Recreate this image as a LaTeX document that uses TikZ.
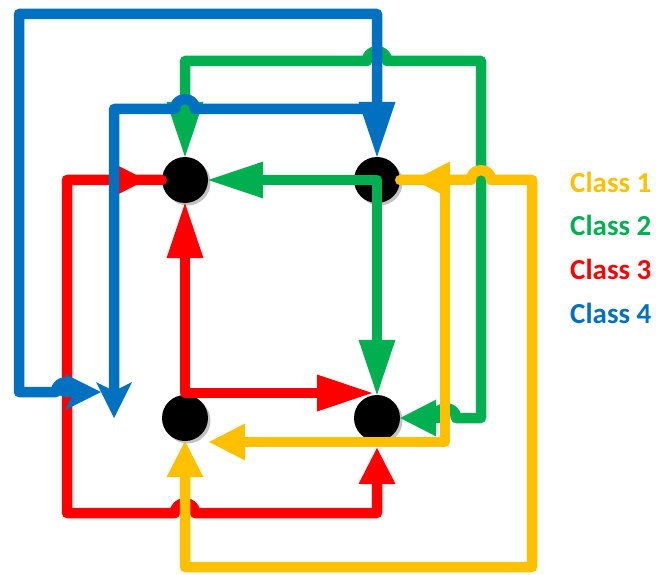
\documentclass[tikz,border=0pt]{standalone}
\usepackage{fontspec}
\newfontfamily\legendfont{Carlito}
\usetikzlibrary{arrows.meta,shadows}
\definecolor{cone}{HTML}{FFC000}
\definecolor{ctwo}{HTML}{00B050}
\definecolor{cthree}{HTML}{FF0000}
\definecolor{cfour}{HTML}{0070C0}
\tikzset{
  LT/.tip={Triangle[length=55pt,width=37pt,line width=0pt]},
  ST/.tip={Triangle[length=36pt,width=37pt,line width=0pt]},
  BT/.tip={Stealth[length=36pt,width=36pt,inset=9pt,line width=0pt]},
  flow/.style={line width=10.5pt, line join=round, line cap=round},
  dot/.style={circle, fill=black, minimum size=46pt, inner sep=0pt,
    drop shadow={shadow xshift=2.5pt, shadow yshift=-2.5pt, fill=black!40, opacity=0.6}},
  legend/.style={font=\legendfont\bfseries\fontsize{29}{29}\selectfont, inner sep=0pt, anchor=base west}
}
\begin{document}
\begin{tikzpicture}[x=1pt,y=-1pt]
\useasboundingbox (0,0) rectangle (659,575);
% nodes
\node[dot] (n1) at (185,180) {};
\node[dot] (n2) at (377,180) {};
\node[dot] (n3) at (185,418) {};
\node[dot] (n4) at (377,418) {};
% Class 3 (red)
\draw[flow,cthree,{LT}-{LT}] (n1.south) -- (185,393) -- (372,393);
\draw[flow,cthree,-{ST}] (n1.west) -- (67,180) -- (67,513) -- (175,513)
  .. controls (175,500) and (195,500) .. (195,513) -- (377,513) -- (377,448);
\draw[flow,cthree,-{ST}] (100,180) -- (146,180);
% Class 2 (green)
\draw[flow,ctwo,{LT}-{LT}] (n1.east) -- (n2.center) -- (n4.north);
\draw[flow,ctwo,-{LT}] (436,418) .. controls (436,405) and (456,405) .. (456,418)
  -- (481,418) -- (481,61) -- (387,61) .. controls (387,48) and (367,48) .. (367,61)
  -- (185,61) -- (n1.north);
\draw[flow,ctwo,-{ST}] (440,418) -- (n4.east);
% Class 1 (yellow)
\draw[flow,cone,-{ST}] (n2.east) -- (471,180) .. controls (471,167) and (491,167) .. (491,180)
  -- (532,180) -- (532,567) -- (185,567) -- (n3.south);
\draw[flow,cone,-{ST}] (445,182) -- (445,442) -- (209,442);
\draw[flow,cone,-{ST}] (457,180) -- (414,180);
% Class 4 (blue)
\draw[flow,cfour,-{LT}] (76,392) .. controls (76,379) and (56,379) .. (56,392)
  -- (19,392) -- (19,14) -- (377,14) -- (n2.north);
\draw[flow,cfour,-{BT}] (64,392) -- (101,392);
\draw[flow,cfour,-{BT}] (377,109) -- (195,109) .. controls (195,96) and (175,96) .. (175,109)
  -- (114,109) -- (114,418);
% legend
\node[legend,text=cone] (l1) at (570,193) {Class 1};
\node[legend,text=ctwo] (l2) at (570,236) {Class 2};
\node[legend,text=cthree] (l3) at (570,279) {Class 3};
\node[legend,text=cfour] (l4) at (570,323) {Class 4};
\end{tikzpicture}
\end{document}
